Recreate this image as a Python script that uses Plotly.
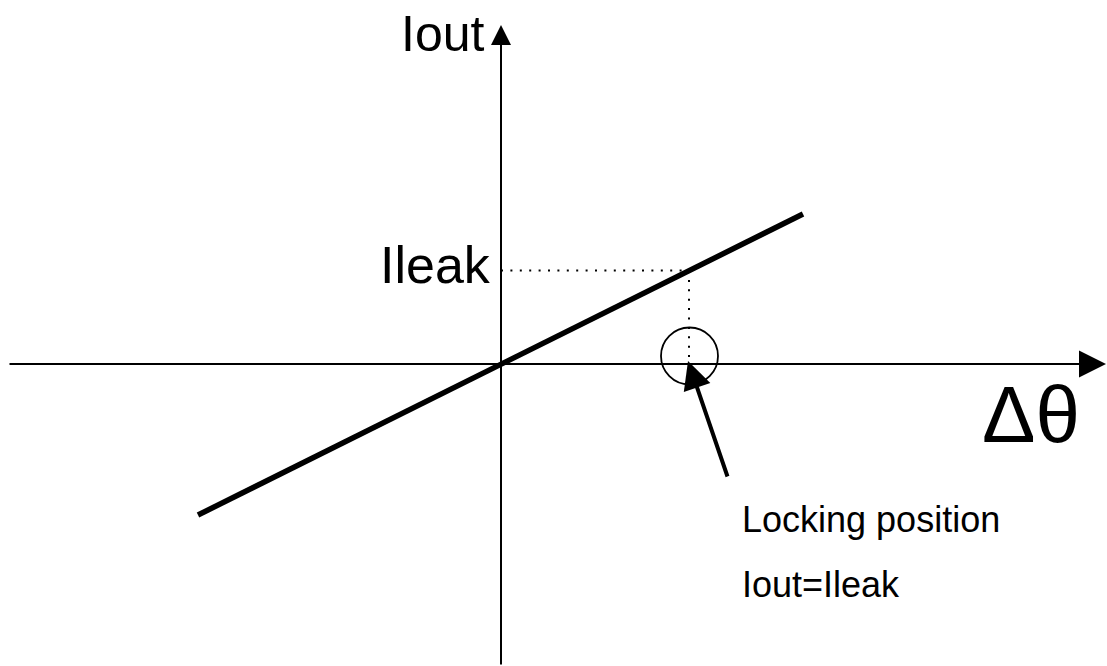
import plotly.graph_objects as go

# ---- data (diagram units: origin at the axes crossing, y upward) ----
x_axis_span = [-493, 605]          # Δθ axis, tail -> arrow tip
y_axis_span = [-302, 339]          # Iout axis, tail -> arrow tip
line_dtheta = [-303, 302]          # transfer characteristic Iout vs Δθ
line_iout = [-151, 150]
lock_dtheta = 188                  # locking position on Δθ axis
i_leak = 93.5                      # leakage current level
circle_center = [188.5, 8]
circle_radius = 28.5
pointer_tip = [187, 3]
pointer_tail = [227, -114]

labels = {
    "iout": ("Iout", -58, 330),
    "ileak": ("Ileak", -66, 99),
    "dtheta": ("Δθ", 530, -50),
}
note_lines = ["Locking position", "Iout=Ileak"]
note_pos = [(239, -155), (239, -220)]

FONT = "Liberation Sans, Arial, sans-serif"

fig = go.Figure()

# main thick line
fig.add_trace(go.Scatter(x=line_dtheta, y=line_iout, mode="lines",
                         line=dict(color="black", width=5.5), hoverinfo="skip"))
# dotted guide lines
fig.add_trace(go.Scatter(x=[0, lock_dtheta, lock_dtheta], y=[i_leak, i_leak, 0],
                         mode="lines",
                         line=dict(color="black", width=2, dash="2px,7.4px"),
                         hoverinfo="skip"))

# circle around locking point
fig.add_shape(type="circle", xref="x", yref="y",
              x0=circle_center[0] - circle_radius, x1=circle_center[0] + circle_radius,
              y0=circle_center[1] - circle_radius, y1=circle_center[1] + circle_radius,
              line=dict(color="black", width=1.8))

# axes with arrows
fig.add_annotation(x=x_axis_span[1], y=0, ax=x_axis_span[0], ay=0,
                   xref="x", yref="y", axref="x", ayref="y", text="",
                   showarrow=True, arrowhead=2, arrowsize=2.7, arrowwidth=2,
                   arrowcolor="black", standoff=0)
fig.add_annotation(x=0, y=y_axis_span[1], ax=0, ay=y_axis_span[0],
                   xref="x", yref="y", axref="x", ayref="y", text="",
                   showarrow=True, arrowhead=2, arrowsize=2.0, arrowwidth=2,
                   arrowcolor="black", standoff=0)
# pointer arrow
fig.add_annotation(x=pointer_tip[0], y=pointer_tip[1], ax=pointer_tail[0], ay=pointer_tail[1],
                   xref="x", yref="y", axref="x", ayref="y", text="",
                   showarrow=True, arrowhead=2, arrowsize=1.4, arrowwidth=4,
                   arrowcolor="black", standoff=0)

# labels
sizes = {"iout": 50, "ileak": 52, "dtheta": 80}
for key, (txt, lx, ly) in labels.items():
    fig.add_annotation(x=lx, y=ly, xref="x", yref="y", text=txt, showarrow=False,
                       xanchor="center", yanchor="middle",
                       font=dict(family=FONT, size=sizes[key], color="black"))
for txt, (lx, ly) in zip(note_lines, note_pos):
    fig.add_annotation(x=lx, y=ly, xref="x", yref="y", text=txt, showarrow=False,
                       xanchor="left", yanchor="middle",
                       font=dict(family=FONT, size=36, color="black"))

fig.update_xaxes(range=[-501, 606], visible=False, fixedrange=True)
fig.update_yaxes(range=[-302, 364], visible=False, fixedrange=True)
fig.update_layout(width=1107, height=666, autosize=False,
                  margin=dict(l=0, r=0, t=0, b=0, pad=0),
                  plot_bgcolor="white", paper_bgcolor="white",
                  showlegend=False)

fig.write_html("out.html", config={"displayModeBar": False},
               post_script="document.body.style.margin='0';document.body.style.overflow='hidden';")
